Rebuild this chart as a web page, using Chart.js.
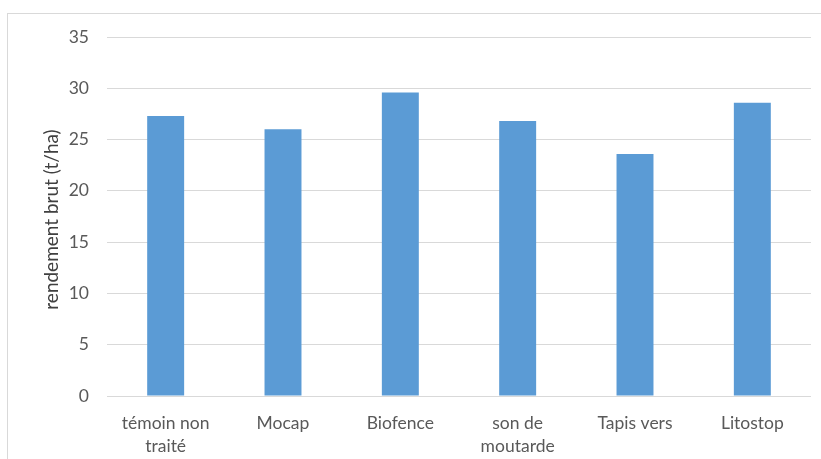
<!DOCTYPE html>
<html>
<head>
<meta charset="utf-8">
<script src="https://cdn.jsdelivr.net/npm/chart.js@4/dist/chart.umd.min.js"></script>
<style>
html,body{margin:0;padding:0;background:#fff;overflow:hidden;}
#wrap{position:absolute;left:0;top:0;width:821px;height:459px;}
#frame{position:absolute;left:7px;top:13px;width:830px;height:470px;border:1px solid #d9d9d9;box-sizing:border-box;}
canvas{position:absolute;left:0;top:0;}
</style>
</head>
<body>
<div id="wrap">
<div id="frame"></div>
<canvas id="c" width="821" height="459"></canvas>
</div>
<script>
const categories = [["témoin non","traité"], "Mocap", "Biofence", ["son de","moutarde"], "Tapis vers", "Litostop"];
const yields = [27.3, 26.0, 29.6, 26.8, 23.6, 28.6];
const yTitle = "rendement brut (t/ha)";
const yMin = 0, yMax = 35, yStep = 5;

const FONT = "Lato, 'Liberation Sans', sans-serif";

const yTitlePlugin = {
  id: 'yTitlePlugin',
  afterDraw(chart) {
    const ctx = chart.ctx;
    const a = chart.chartArea;
    ctx.save();
    ctx.translate(52, (a.top + a.bottom) / 2 + 3);
    ctx.rotate(-Math.PI / 2);
    ctx.textAlign = 'center';
    ctx.textBaseline = 'middle';
    ctx.fillStyle = '#404040';
    ctx.font = "19px " + FONT;
    ctx.fillText(yTitle, 0, 0);
    ctx.restore();
  }
};

new Chart(document.getElementById('c'), {
  type: 'bar',
  data: {
    labels: categories,
    datasets: [{
      data: yields,
      backgroundColor: '#5B9BD5',
      borderWidth: 0,
      barPercentage: 0.315,
      categoryPercentage: 1.0
    }]
  },
  plugins: [yTitlePlugin],
  options: {
    responsive: false,
    animation: false,
    devicePixelRatio: 1,
    layout: { padding: { left: 40, right: 10, top: 37, bottom: 0 } },
    plugins: { legend: { display: false }, tooltip: { enabled: false } },
    scales: {
      x: {
        grid: { display: false, drawTicks: false },
        border: { display: false },
        ticks: {
          color: '#595959',
          font: { family: FONT, size: 17.5, lineHeight: 1.32 },
          padding: 16,
          maxRotation: 0,
          autoSkip: false
        },
        afterFit: s => { s.height = 63; }
      },
      y: {
        min: yMin, max: yMax,
        grid: { color: '#d9d9d9', lineWidth: 1, drawTicks: false },
        border: { display: false },
        ticks: {
          stepSize: yStep,
          color: '#595959',
          font: { family: FONT, size: 17.5 },
          padding: 18
        },
        title: { display: false },
        afterFit: s => { s.width = 67; }
      }
    }
  }
});
</script>
</body>
</html>
